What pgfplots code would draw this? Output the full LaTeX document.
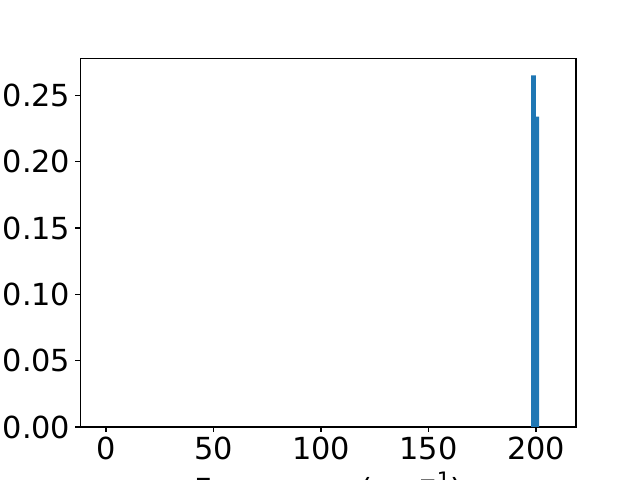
\documentclass[border=0pt]{standalone}
\usepackage{pgfplots}
\pgfplotsset{compat=1.18}
\usepackage{fontspec}
\setmainfont{DejaVu Sans}
\begin{document}
\begin{tikzpicture}
\useasboundingbox (0,0) rectangle (640bp,480bp);
\begin{axis}[
  at={(80.3bp,53bp)}, anchor=south west,
  scale only axis, width=495.7bp, height=368.7bp,
  xmin=-11.95, xmax=218.6,
  ymin=0, ymax=0.2779,
  xtick={0,50,100,150,200},
  ytick={0,0.05,0.1,0.15,0.2,0.25},
  yticklabel style={/pgf/number format/fixed,/pgf/number format/fixed zerofill,/pgf/number format/precision=2},
  /pgf/number format/assume math mode=true,
  tick label style={font=\fontsize{30.5}{36}\selectfont, inner sep=0pt},
  xticklabel style={yshift=-4.9bp},
  yticklabel style={xshift=-4.9bp},
  tick align=outside,
  major tick length=4.86bp,
  xtick pos=left, ytick pos=left,
  axis line style={line width=1.11bp},
  every tick/.style={black, line width=1.11bp},
  xlabel={Frequency (cm\raisebox{12.9bp}{\fontsize{21.35}{25}\selectfont −1})},
  xlabel style={font=\fontsize{30.5}{36}\selectfont, inner sep=0pt, at={(axis description cs:0.5,0)}, anchor=north, yshift=-44.7bp},
]
\addplot[ybar interval, fill={rgb,255:red,31;green,119;blue,180}, draw=none]
  coordinates {(197.7,0.265) (199.9,0.234) (201.4,0.234)};
\end{axis}
\end{tikzpicture}
\end{document}
